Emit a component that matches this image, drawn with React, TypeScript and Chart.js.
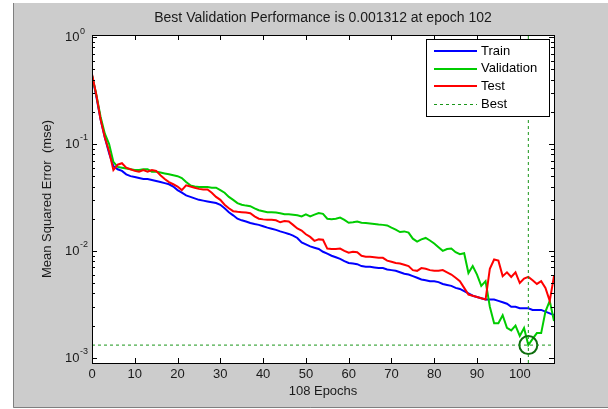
import React, { useEffect, useRef } from 'react';
import { Chart, registerables } from 'chart.js';

Chart.register(...registerables);

// ---- data ----
const epochs = [...Array(109).keys()];

const trainPerf = [
  0.44, 0.28, 0.17, 0.115, 0.082, 0.062, 0.058, 0.056, 0.052, 0.050,
  0.049, 0.048, 0.047, 0.047, 0.046, 0.045, 0.044, 0.043, 0.042, 0.040,
  0.037, 0.035, 0.033, 0.032, 0.031, 0.030, 0.0295, 0.029, 0.0285, 0.028,
  0.027, 0.025, 0.023, 0.0215, 0.020, 0.0193, 0.0188, 0.0182, 0.0178, 0.0175,
  0.0170, 0.0165, 0.0161, 0.0157, 0.0152, 0.0148, 0.0144, 0.0139, 0.0132, 0.0120,
  0.0115, 0.0110, 0.0107, 0.0104, 0.0098, 0.0094, 0.0090, 0.0087, 0.0084, 0.0080,
  0.0077, 0.0076, 0.0075, 0.0072, 0.0071, 0.0071, 0.0070, 0.0069, 0.0069, 0.0067,
  0.0066, 0.0065, 0.0063, 0.0061, 0.0060, 0.0058, 0.0056, 0.0054, 0.0053, 0.0052,
  0.0052, 0.0051, 0.0049, 0.0048, 0.0047, 0.0045, 0.0044, 0.0042, 0.0040, 0.0038,
  0.0037, 0.0036, 0.0035, 0.0035, 0.0035, 0.0034, 0.0033, 0.0032, 0.0030, 0.0030,
  0.0029, 0.0029, 0.0029, 0.0028, 0.0028, 0.0028, 0.0027, 0.0026, 0.0025,
];

const validationPerf = [
  0.44, 0.29, 0.18, 0.125, 0.10, 0.068, 0.061, 0.060, 0.059, 0.058,
  0.057, 0.057, 0.058, 0.058, 0.055, 0.055, 0.054, 0.053, 0.052, 0.051,
  0.050, 0.048, 0.044, 0.041, 0.040, 0.0395, 0.0395, 0.0395, 0.039, 0.039,
  0.037, 0.035, 0.032, 0.030, 0.028, 0.027, 0.0265, 0.0262, 0.025, 0.024,
  0.0235, 0.023, 0.023, 0.0228, 0.0225, 0.022, 0.022, 0.0218, 0.0215, 0.0210,
  0.0220, 0.0210, 0.0218, 0.0226, 0.0222, 0.0200, 0.0198, 0.0200, 0.0205, 0.0195,
  0.0183, 0.0185, 0.0188, 0.0183, 0.0182, 0.0180, 0.0178, 0.0176, 0.0175, 0.0173,
  0.0165, 0.0158, 0.0150, 0.0152, 0.0148, 0.0130, 0.0122, 0.0128, 0.0132, 0.0125,
  0.0117, 0.0108, 0.0100, 0.0104, 0.0105, 0.0097, 0.0093, 0.0095, 0.0062, 0.0072,
  0.0060, 0.0047, 0.0052, 0.0030, 0.0021, 0.0021, 0.0025, 0.0019, 0.0018, 0.0020,
  0.0016, 0.0019, 0.001312, 0.0015, 0.0017, 0.0017, 0.0027, 0.0034, 0.0022,
];

const testPerf = [
  0.45, 0.29, 0.17, 0.115, 0.085, 0.057, 0.064, 0.066, 0.060, 0.058,
  0.056, 0.055, 0.057, 0.055, 0.057, 0.056, 0.051, 0.047, 0.044, 0.042,
  0.040, 0.037, 0.041, 0.040, 0.039, 0.038, 0.0375, 0.0375, 0.035, 0.032,
  0.030, 0.027, 0.025, 0.0235, 0.0232, 0.023, 0.0228, 0.0225, 0.021, 0.020,
  0.0197, 0.0195, 0.0195, 0.0193, 0.0185, 0.0190, 0.0188, 0.0175, 0.0162, 0.0155,
  0.0143, 0.0135, 0.0124, 0.0128, 0.0127, 0.0105, 0.0104, 0.0104, 0.0105, 0.0100,
  0.0096, 0.0098, 0.0097, 0.0090, 0.0088, 0.0088, 0.0087, 0.0086, 0.0086, 0.0081,
  0.0079, 0.0077, 0.0076, 0.0074, 0.0072, 0.0066, 0.0065, 0.0069, 0.0068, 0.0066,
  0.0065, 0.0065, 0.0066, 0.0063, 0.0060, 0.0056, 0.0052, 0.0045, 0.0039, 0.0038,
  0.0037, 0.0036, 0.0035, 0.0068, 0.0083, 0.0081, 0.0058, 0.0063, 0.0057, 0.0063,
  0.0050, 0.0055, 0.0057, 0.0053, 0.0049, 0.0052, 0.0045, 0.0034, 0.0058,
];

const bestEpoch = 102;
const bestPerf = 0.001312;
const totalEpochs = 108;

const xTickValues = [0, 10, 20, 30, 40, 50, 60, 70, 80, 90, 100];
const yTickValues = [1, 0.1, 0.01, 0.001];
const yTickExponents = ['0', '-1', '-2', '-3'];

const titleText = 'Best Validation Performance is 0.001312 at epoch 102';
const xTitleText = '108 Epochs';
const yTitleText = 'Mean Squared Error  (mse)';

const Y_MIN = 0.000892;
const Y_MAX = 1.047;

const FONT = '"Liberation Sans", Arial, Helvetica, sans-serif';

export default function App() {
  const ref = useRef<HTMLCanvasElement>(null);

  useEffect(() => {
    const canvas = ref.current;
    if (!canvas) return;

    const matlabPlugin = {
      id: 'matlabLook',
      beforeDraw(chart: any) {
        const ctx = chart.ctx;
        const w = chart.width;
        const h = chart.height;
        const a = chart.chartArea;
        ctx.save();
        ctx.fillStyle = '#ffffff';
        ctx.fillRect(0, 0, w, h);
        ctx.fillStyle = '#cccccc';
        ctx.fillRect(13, 3, w - 13, 405);
        ctx.strokeStyle = '#7f7f7f';
        ctx.lineWidth = 1;
        ctx.beginPath();
        ctx.moveTo(13.5, 3);
        ctx.lineTo(13.5, 407.5);
        ctx.lineTo(w, 407.5);
        ctx.stroke();
        ctx.fillStyle = '#ffffff';
        ctx.fillRect(a.left, a.top, a.right - a.left, a.bottom - a.top);
        ctx.restore();
      },
      afterDatasetsDraw(chart: any) {
        // legend box
        const ctx = chart.ctx;
        const ds = chart.data.datasets;
        const entries = [ds[0], ds[1], ds[2], ds[3]];
        const bx = 426.5, by = 39.5, bw = 123, bh = 77;
        ctx.save();
        ctx.fillStyle = '#ffffff';
        ctx.fillRect(bx, by, bw, bh);
        ctx.strokeStyle = '#000000';
        ctx.lineWidth = 1;
        ctx.strokeRect(bx, by, bw, bh);
        ctx.font = `13px ${FONT}`;
        ctx.textBaseline = 'middle';
        ctx.textAlign = 'left';
        entries.forEach((d: any, i: number) => {
          const yy = 51 + i * 17.7;
          ctx.save();
          ctx.strokeStyle = d.borderColor;
          ctx.lineWidth = d.borderWidth;
          ctx.setLineDash(d.borderDash || []);
          ctx.beginPath();
          ctx.moveTo(434, Math.round(yy) + (d.borderWidth % 2 ? 0.5 : 0));
          ctx.lineTo(477, Math.round(yy) + (d.borderWidth % 2 ? 0.5 : 0));
          ctx.stroke();
          ctx.restore();
          ctx.fillStyle = '#000000';
          ctx.fillText(d.label, 481, yy);
        });
        ctx.restore();
      },
      afterDraw(chart: any) {
        const ctx = chart.ctx;
        const a = chart.chartArea;
        const xs = chart.scales.x;
        const ys = chart.scales.y;
        ctx.save();
        // frame
        ctx.strokeStyle = '#000000';
        ctx.lineWidth = 1;
        ctx.strokeRect(a.left + 0.5, a.top + 0.5, a.right - a.left, a.bottom - a.top);
        // x ticks (inward, bottom and top)
        ctx.beginPath();
        xTickValues.forEach((v) => {
          const px = Math.round(xs.getPixelForValue(v)) + 0.5;
          ctx.moveTo(px, a.bottom);
          ctx.lineTo(px, a.bottom - 5);
          ctx.moveTo(px, a.top);
          ctx.lineTo(px, a.top + 5);
        });
        // y ticks: major + minor
        yTickValues.forEach((v) => {
          const py = Math.round(ys.getPixelForValue(v)) + 0.5;
          ctx.moveTo(a.left, py);
          ctx.lineTo(a.left + 5, py);
          ctx.moveTo(a.right, py);
          ctx.lineTo(a.right - 5, py);
          for (let m = 2; m <= 9; m++) {
            const mv = v * m;
            if (mv > Y_MAX || mv < Y_MIN) continue;
            const mpy = Math.round(ys.getPixelForValue(mv)) + 0.5;
            ctx.moveTo(a.left, mpy);
            ctx.lineTo(a.left + 3, mpy);
            ctx.moveTo(a.right, mpy);
            ctx.lineTo(a.right - 3, mpy);
          }
        });
        ctx.stroke();

        // x tick labels
        ctx.fillStyle = '#1a1a1a';
        ctx.font = `13px ${FONT}`;
        ctx.textAlign = 'center';
        ctx.textBaseline = 'middle';
        xTickValues.forEach((v) => {
          ctx.fillText(String(v), xs.getPixelForValue(v), 374);
        });
        // y tick labels 10^n
        yTickValues.forEach((v, i) => {
          const py = ys.getPixelForValue(v);
          ctx.font = `13px ${FONT}`;
          ctx.textAlign = 'right';
          ctx.fillText('10', 79.5, py + 0.5);
          ctx.font = `9px ${FONT}`;
          ctx.textAlign = 'left';
          ctx.fillText(yTickExponents[i], 80, py - 6);
        });
        // titles
        const cx = (a.left + a.right) / 2;
        ctx.font = `14px ${FONT}`;
        ctx.textAlign = 'center';
        ctx.fillText(titleText, cx, 18);
        ctx.font = `13px ${FONT}`;
        ctx.fillText(xTitleText, cx, 391);
        ctx.save();
        ctx.translate(47.5, (a.top + a.bottom) / 2);
        ctx.rotate(-Math.PI / 2);
        ctx.fillText(yTitleText, 0, 0);
        ctx.restore();
        ctx.restore();
      },
    };

    const toPts = (arr: number[]) => epochs.map((e, i) => ({ x: e, y: arr[i] }));

    const chart = new Chart(canvas, {
      type: 'line',
      data: {
        datasets: [
          { label: 'Train', data: toPts(trainPerf), borderColor: '#0000ff', borderWidth: 2, pointRadius: 0, order: 3 },
          { label: 'Validation', data: toPts(validationPerf), borderColor: '#00cc00', borderWidth: 2, pointRadius: 0, order: 2 },
          { label: 'Test', data: toPts(testPerf), borderColor: '#ff0000', borderWidth: 2, pointRadius: 0, order: 1 },
          {
            label: 'Best',
            data: [{ x: 0, y: bestPerf }, { x: totalEpochs, y: bestPerf }],
            borderColor: '#1a961a', borderWidth: 1, borderDash: [3, 3], pointRadius: 0, order: 0,
          },
          {
            label: 'Best epoch',
            data: [{ x: bestEpoch, y: Y_MIN }, { x: bestEpoch, y: Y_MAX }],
            borderColor: '#1a961a', borderWidth: 1, borderDash: [3, 3], pointRadius: 0, order: 0,
          },
          {
            label: 'Best point',
            data: [{ x: bestEpoch, y: bestPerf }],
            showLine: false, pointRadius: 9, pointStyle: 'circle',
            pointBorderColor: '#0d6d0d', pointBackgroundColor: 'rgba(0,0,0,0)', pointBorderWidth: 2,
            borderColor: '#0d6d0d', order: 0,
          },
        ],
      },
      options: {
        responsive: false,
        animation: false,
        events: [],
        layout: { padding: { left: 92, top: 35, right: 54, bottom: 46 } },
        plugins: { legend: { display: false }, tooltip: { enabled: false }, title: { display: false } },
        scales: {
          x: { type: 'linear', min: 0, max: totalEpochs, display: false },
          y: { type: 'logarithmic', min: Y_MIN, max: Y_MAX, display: false },
        },
        elements: { line: { tension: 0 } },
      },
      plugins: [matlabPlugin],
    } as any);

    return () => chart.destroy();
  }, []);

  return (
    <div style={{ position: 'fixed', left: 0, top: 0, width: 608, height: 409, background: '#fff' }}>
      <canvas ref={ref} width={608} height={409} style={{ display: 'block' }} />
    </div>
  );
}
